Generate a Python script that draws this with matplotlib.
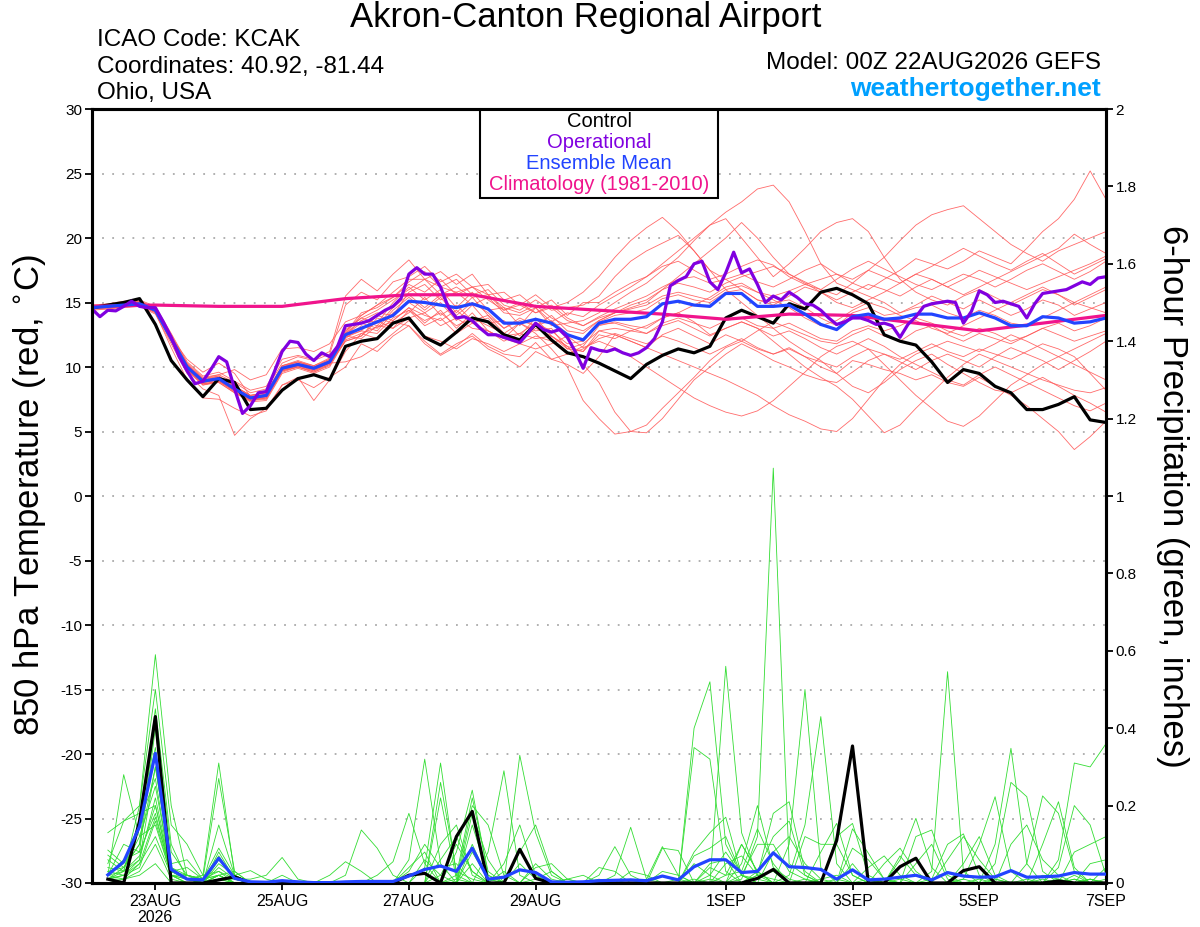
import matplotlib
matplotlib.use("Agg")
import matplotlib.pyplot as plt
from matplotlib.patches import Rectangle
import pandas as pd

plt.rcParams['font.family'] = ['Liberation Sans', 'DejaVu Sans']

# ---------------- data ----------------
run_start = "2026-08-22 00:00"
n6 = 65          # 6-hourly points (0..384h)
n3 = 129         # 3-hourly points for operational

title = "Akron-Canton Regional Airport"
info_left = ["ICAO Code: KCAK", "Coordinates: 40.92, -81.44", "Ohio, USA"]
model_text = "Model: 00Z 22AUG2026 GEFS"
site_text = "weathertogether.net"
legend_labels = ["Control", "Operational", "Ensemble Mean", "Climatology (1981-2010)"]
left_label = "850 hPa Temperature (red, $^{\\circ}$C)"
right_label = "6-hour Precipitation (green, inches)"

tick_dates = ["2026-08-23", "2026-08-25", "2026-08-27", "2026-08-29",
              "2026-09-01", "2026-09-03", "2026-09-05", "2026-09-07"]
tick_labels = ["23AUG\n2026", "25AUG", "27AUG", "29AUG", "1SEP", "3SEP", "5SEP", "7SEP"]
temp_ticks = [-30, -25, -20, -15, -10, -5, 0, 5, 10, 15, 20, 25, 30]
precip_ticks = [0, 0.2, 0.4, 0.6, 0.8, 1.0, 1.2, 1.4, 1.6, 1.8, 2.0]

# ensemble member 850 hPa temperatures (6-hourly)
t_m01 = [14.7,14.8,15.0,15.1,14.6,12.5,10.3,9.2,9.4,8.8, 8.0,8.3,10.3,10.8,10.5,11.0,14.8,15.8,15.2,16.6,
         17.0,17.8,16.6,17.2,16.2,16.4,15.2,15.6,14.6,15.2, 14.0,15.0,15.0,15.8,16.5,17.0,17.8,18.2,17.5,16.8,
         17.2,17.8,18.3,17.9,17.0,16.4,16.8,17.2,16.5,16.0, 16.8,17.5,18.4,18.0,17.6,18.2,19.0,18.5,18.0,19.2,
         20.5,21.5,23.0,25.2,23.0]
t_m02 = [14.5,14.6,14.7,14.8,14.2,11.5,9.0,7.6,7.5,6.8, 6.2,6.6,8.6,9.0,8.4,9.2,10.0,11.8,11.2,12.4,
         13.2,11.8,10.9,11.6,12.6,11.6,11.0,10.8,11.9,10.6, 10.2,9.5,10.8,12.5,12.0,11.5,12.5,13.0,12.4,11.8,
         12.5,12.0,11.4,11.0,11.5,10.8,10.0,9.5,10.5,10.2, 9.8,9.5,9.0,9.4,8.8,8.5,9.2,8.5,7.8,7.0,
         6.0,5.0,3.6,4.6,5.8]
t_m03 = [14.6,14.8,14.9,15.0,14.5,12.4,10.2,9.1,9.3,8.5, 7.8,8.0,10.1,10.5,10.1,10.7,12.8,13.8,13.4,15.0,
         16.2,15.2,16.0,14.6,15.8,14.4,14.6,13.2,14.6,13.5, 14.2,13.9,14.8,15.5,16.2,17.0,18.0,19.0,20.0,21.0,
         22.0,22.8,23.8,24.1,22.8,20.5,18.0,16.5,16.0,15.5, 15.0,14.2,14.8,15.5,15.0,14.5,15.2,14.6,14.0,14.5,
         15.2,14.8,14.0,14.5,15.0]
t_m04 = [14.4,14.5,14.6,14.7,14.1,11.8,9.5,8.3,7.8,4.7, 6.0,6.8,8.6,9.2,7.4,9.0,11.2,12.6,12.2,13.6,
         14.6,13.4,14.4,13.0,14.2,12.8,12.2,13.4,12.6,11.4, 10.0,7.4,6.0,4.8,5.0,5.5,6.8,8.0,9.2,10.5,
         11.5,12.0,12.8,13.5,13.0,12.5,12.0,11.8,12.5,13.0, 12.4,12.0,12.8,13.2,12.5,12.0,12.6,12.2,11.8,12.4,
         13.0,12.5,12.0,12.4,12.8]
t_m05 = [14.8,14.9,15.1,15.2,14.7,12.6,10.4,9.3,9.6,8.9, 8.2,8.5,10.6,10.9,10.6,11.2,15.5,16.8,15.9,17.2,
         18.3,16.8,17.4,16.4,17.2,15.6,15.8,14.8,15.6,14.6, 15.0,15.8,17.0,18.5,19.8,20.8,21.6,20.5,19.0,17.5,
         16.8,16.0,15.2,14.8,15.5,16.2,15.8,15.0,14.6,15.2, 15.8,16.5,17.2,16.8,16.2,16.8,17.5,17.0,16.5,16.0,
         16.5,17.0,17.5,18.0,18.6]
t_m06 = [14.6,14.6,14.7,14.8,14.3,12.0,9.8,8.7,8.8,8.0, 7.4,7.5,9.6,10.0,9.6,10.1,12.2,13.2,12.8,14.2,
         15.0,14.2,15.0,13.6,14.8,13.4,13.6,12.4,13.8,12.4, 11.6,10.2,8.8,6.5,5.0,4.9,6.0,7.5,9.0,10.0,
         11.0,11.8,11.2,10.5,10.0,9.4,9.0,8.8,9.6,10.5, 11.0,10.4,9.8,10.5,11.0,10.5,10.0,10.8,11.5,11.0,
         10.5,9.8,10.5,11.2,12.0]
t_m07 = [14.7,14.7,14.9,15.0,14.5,12.3,10.6,9.6,10.3,9.5, 7.7,7.9,10.0,10.4,10.0,10.5,12.6,13.6,14.2,14.0,
         15.8,16.4,15.2,15.8,14.8,15.4,14.2,14.0,14.6,13.2, 13.4,13.6,14.2,15.0,15.8,16.5,17.5,18.5,19.8,21.0,
         21.5,20.0,18.5,17.0,18.0,19.2,20.5,21.2,21.5,20.5, 18.5,16.8,15.8,15.2,14.8,15.5,16.0,15.4,14.8,15.4,
         16.0,15.6,15.0,15.6,16.2]
t_m08 = [14.5,14.7,14.8,14.9,14.3,12.1,9.9,8.8,9.0,8.2, 7.5,7.7,9.8,10.1,9.8,10.3,12.0,12.4,13.8,13.4,
         14.2,15.4,14.0,14.8,13.6,14.0,12.6,13.4,12.8,13.0, 11.4,11.8,12.8,12.5,12.0,11.5,11.0,10.5,10.0,9.5,
         9.0,8.4,7.8,7.0,6.3,5.8,5.2,5.0,6.0,7.5, 9.0,10.2,11.0,11.5,12.0,11.6,11.2,11.8,12.5,12.0,
         11.4,10.8,10.2,9.6,9.0]
t_m09 = [14.6,14.7,14.8,14.9,14.4,12.2,10.0,8.9,9.2,8.4, 7.6,7.8,9.9,10.2,9.9,10.4,12.5,13.6,13.2,14.6,
         15.6,14.6,15.6,14.2,15.4,14.0,13.0,13.8,13.2,14.0, 12.8,12.6,13.6,14.2,14.5,14.8,15.5,15.8,15.5,15.2,
         16.0,16.3,15.8,15.5,15.9,16.4,16.0,15.6,16.5,17.5, 18.5,19.8,21.0,21.8,22.2,22.5,21.5,20.5,19.5,18.8,
         18.2,19.0,19.5,20.0,20.5]
t_m10 = [14.5,14.6,14.7,14.8,14.3,12.0,9.8,8.6,8.9,8.1, 7.4,7.6,9.7,10.0,9.6,10.2,12.0,12.4,13.6,13.0,
         14.4,13.6,14.2,13.2,13.8,13.2,12.6,12.0,13.0,12.4, 11.4,11.2,12.5,12.2,12.8,13.2,13.8,14.2,13.5,12.5,
         13.0,13.5,13.0,12.0,11.0,10.0,9.2,8.5,7.5,6.2, 4.9,5.5,6.8,8.0,9.2,10.2,11.0,10.5,10.0,9.5,
         9.0,8.6,8.2,8.0,8.4]
t_m11 = [14.7,14.8,14.9,15.0,14.5,12.3,10.1,9.0,9.2,8.5, 7.8,8.0,10.1,10.4,10.1,10.6,12.9,13.8,14.4,15.2,
         16.0,16.8,15.6,16.2,15.4,15.6,14.4,14.8,14.2,14.6, 13.6,13.2,13.9,14.5,15.0,15.5,16.2,16.8,17.0,16.5,
         16.8,17.2,16.6,16.2,16.8,17.5,18.0,17.2,16.8,17.5, 17.0,16.5,17.2,17.8,18.5,19.2,18.6,18.0,17.5,18.2,
         18.8,18.0,17.2,17.8,18.4]
t_m12 = [14.5,14.5,14.7,14.8,14.2,12.0,9.7,8.6,8.8,8.0, 7.3,7.4,9.5,9.9,9.5,10.0,12.1,12.6,13.1,13.5,
         13.2,12.0,11.0,11.8,12.4,11.4,10.8,10.0,11.2,10.6, 11.0,11.4,12.2,12.6,12.2,11.8,12.4,12.0,11.5,11.0,
         11.6,12.2,11.5,11.0,11.4,10.8,10.4,10.0,10.8,11.4, 11.0,10.6,11.2,11.8,11.2,10.8,11.4,11.0,10.6,11.2,
         11.8,11.4,10.8,9.5,8.2]
t_m13 = [14.6,14.6,14.8,14.9,14.4,12.2,10.0,8.9,9.0,8.3, 7.6,7.8,9.9,10.2,9.9,10.4,12.5,13.4,13.0,14.4,
         15.4,14.4,15.4,14.0,15.0,14.2,13.0,13.6,13.2,13.6, 12.6,12.0,13.5,14.0,14.2,14.5,15.3,15.6,15.2,15.0,
         15.8,16.0,15.2,15.0,15.2,14.6,13.8,13.2,14.2,14.6, 14.0,14.2,14.6,14.8,14.2,13.8,14.4,14.0,13.4,13.2,
         13.8,14.4,15.0,14.6,14.2]
t_m14 = [14.8,14.8,15.0,15.1,14.6,12.4,10.2,9.1,9.4,9.8, 9.0,9.4,11.4,11.5,11.2,11.8,13.5,14.0,14.8,15.4,
         16.6,17.4,16.2,16.8,15.6,16.0,14.8,14.4,15.2,14.4, 14.6,14.8,15.5,17.0,18.2,19.0,19.6,20.2,19.0,17.5,
         16.0,15.0,14.0,13.0,12.0,11.2,10.5,9.5,8.5,8.0, 8.8,9.8,10.5,11.0,10.2,9.5,8.8,8.2,8.0,8.6,
         9.2,8.5,7.8,7.2,6.5]
t_m15 = [14.6,14.7,14.8,14.9,14.4,12.1,9.9,8.8,9.0,8.2, 7.5,7.7,9.8,10.1,9.8,10.3,12.4,12.2,13.2,13.0,
         13.8,14.2,13.2,13.8,13.0,12.8,12.2,11.8,12.4,12.0, 11.0,11.6,13.2,13.5,13.2,13.0,13.8,14.2,14.8,15.4,
         16.2,16.5,15.8,15.2,14.6,13.8,13.2,13.6,14.4,15.0, 14.6,14.0,13.6,13.0,12.6,13.2,13.8,14.4,15.0,15.6,
         16.2,15.6,14.8,15.4,16.0]
t_m16 = [14.5,14.6,14.8,14.8,14.3,12.1,9.8,8.7,8.9,8.2, 7.5,7.6,9.7,10.1,9.7,10.3,10.4,10.8,11.6,12.6,
         13.6,12.4,12.0,11.4,12.2,11.8,11.2,11.8,11.4,11.8, 12.4,11.5,12.0,11.5,10.8,10.0,9.2,8.4,7.6,7.0,
         6.5,6.2,6.6,7.4,8.5,9.6,10.8,11.6,12.0,11.4, 10.2,9.0,7.8,6.8,5.8,5.4,6.2,7.4,8.6,9.4,
         10.2,10.8,11.4,12.0,12.6]
t_m17 = [14.7,14.8,15.0,15.0,14.5,12.3,10.2,9.0,9.3,8.5, 7.8,8.0,10.1,10.4,10.0,10.6,12.7,14.2,14.6,15.4,
         16.4,15.8,16.8,15.6,16.2,15.2,14.4,15.0,14.2,14.8, 13.8,13.2,13.8,14.2,14.8,15.2,16.0,16.5,16.2,15.8,
         16.5,17.0,17.4,17.8,17.2,16.6,16.0,16.8,17.6,18.2, 17.6,17.0,16.4,16.0,16.6,17.2,16.8,16.2,16.8,17.5,
         18.0,17.4,16.8,17.4,18.2]
t_m18 = [14.6,14.6,14.7,14.8,14.3,12.1,9.9,8.8,9.0,8.2, 7.5,7.7,9.8,10.1,9.8,10.3,12.4,12.8,14.0,13.6,
         14.6,14.0,13.6,14.4,13.4,13.8,12.4,12.6,13.4,12.8, 11.8,12.0,13.3,13.4,13.0,12.6,13.2,13.6,13.0,12.4,
         13.0,13.5,13.0,12.4,12.8,12.2,11.5,11.0,11.6,12.2, 11.6,10.8,10.2,9.6,9.0,8.6,9.4,10.0,9.4,8.8,
         8.2,7.6,7.0,6.6,7.2]
t_m19 = [14.7,14.7,14.9,15.0,14.5,12.3,10.1,9.0,9.2,8.4, 7.7,7.9,10.0,10.3,10.0,10.5,12.6,14.0,14.8,15.8,
         16.8,16.8,16.2,15.8,16.2,15.6,14.6,14.2,14.8,13.8, 13.2,12.8,13.6,14.2,14.6,15.0,16.0,17.0,18.0,19.0,
         20.0,21.2,20.0,18.5,17.2,16.5,15.8,15.2,15.8,16.4, 16.0,15.5,16.2,16.8,16.2,15.6,16.2,16.8,17.4,18.0,
         18.6,19.2,20.3,19.5,18.8]
t_m20 = [14.5,14.6,14.7,14.8,14.3,12.0,9.8,8.7,8.9,8.1, 7.4,7.6,9.7,10.0,9.7,10.2,12.3,12.8,12.6,13.8,
         14.4,13.2,13.8,12.6,13.4,12.8,12.0,12.6,12.2,12.4, 11.6,11.2,12.8,13.0,12.8,12.6,13.4,13.8,13.4,13.0,
         13.6,13.8,13.2,13.0,13.4,12.8,12.2,12.0,12.8,13.2, 12.8,13.2,13.8,13.4,12.8,12.4,13.0,12.6,12.0,12.4,
         13.0,13.4,12.8,13.2,13.8]

# control run, ensemble mean (6-hourly)
t_control = [14.6,14.8,15.0,15.3,13.3,10.5,9.0,7.7,9.1,8.8, 6.7,6.8,8.2,9.1,9.4,9.0,11.6,12.0,12.2,13.4,
             13.8,12.3,11.7,12.7,13.8,13.5,12.5,12.1,13.3,12.1, 11.1,10.8,10.3,9.7,9.1,10.2,10.9,11.4,11.1,11.6,
             13.8,14.4,13.9,13.4,14.9,14.5,15.8,16.1,15.6,14.9, 12.5,12.0,11.7,10.4,8.8,9.8,9.5,8.5,8.0,6.7,
             6.7,7.1,7.7,5.9,5.7]
t_mean = [14.6,14.7,14.8,14.9,14.4,12.2,10.0,8.9,9.1,8.3, 7.6,7.8,9.9,10.2,9.9,10.4,12.5,13.0,13.5,14.0,
          15.1,15.0,14.8,14.6,14.9,14.5,13.4,13.4,13.7,13.4, 12.5,12.1,13.4,13.7,13.7,13.9,14.9,15.1,14.8,14.7,
          15.7,15.7,14.7,14.7,14.8,14.1,13.3,12.9,13.9,14.1, 13.7,13.8,14.1,14.1,13.8,13.8,14.2,13.8,13.2,13.2,
          13.9,13.8,13.4,13.5,13.8]

# operational run (3-hourly)
t_oper = [14.5,13.9,14.4,14.35,14.7,15.1,14.7,14.6,14.6,13.5,
          12.3,10.8,9.7,8.7,8.9,9.8,10.8,10.4,8.3,6.4,
          7.0,8.0,8.1,9.6,11.2,12.0,11.9,11.0,10.5,11.1,
          10.8,11.6,13.2,13.3,13.4,13.6,14.0,14.4,14.7,15.3,
          17.2,17.7,17.2,17.2,16.2,14.6,13.8,13.9,13.6,13.0,
          12.5,12.5,12.3,12.1,11.9,12.6,13.4,12.9,12.7,12.9,
          12.3,11.2,9.9,11.5,11.3,11.2,11.4,11.1,10.9,11.1,
          11.5,12.2,13.5,16.3,16.7,17.0,18.0,18.2,16.6,16.0,
          17.3,18.9,17.3,17.6,16.4,15.0,15.5,15.2,15.8,15.4,
          14.9,14.8,14.4,13.8,13.3,13.5,13.8,13.8,13.6,13.3,
          13.4,13.2,12.3,13.3,13.9,14.7,14.9,15.0,15.1,15.0,
          13.4,14.3,15.9,15.6,15.0,15.1,14.9,14.7,13.8,14.9,
          15.7,15.8,15.9,16.0,16.3,16.6,16.4,16.9,17.0]

# climatology (daily)
clim_dates = pd.date_range(run_start, periods=17, freq="1D")
t_clim = [14.7,14.8,14.7,14.7,15.3,15.6,15.6,14.7,14.4,14.1,13.7,14.1,14.0,13.4,12.8,13.4,14.0]

# 6-hour precipitation (inches), 6h..384h
p_m01 = [.13,.16,.18,.20,.03,.04,.01,.02,0,0,0,0,0,0,0,0, 0,0,0,.03,.10,.04,.05,0,0,.03,0,0,0,.01,0,0,
         0,0,0,0,0,.05,.02,.08,.02,.01,0,0,0,.01,.02,0, 0,.05,.09,.03,0,0,.01,0,0,0,.01,0,0,.02,0,0]
p_m02 = [.02,.28,.12,.15,.02,0,0,.15,.02,0,0,0,0,0,0,0, 0,0,0,.04,.08,0,0,.05,0,0,0,0,0,0,0,.01,
         0,0,0,0,.01,0,.05,.06,0,.02,.01,0,0,0,0,0, .01,0,.07,.02,0,0,0,.01,0,0,0,.02,.01,0,0,0]
p_m03 = [.05,.16,.20,.50,.15,.10,.02,.03,0,0,0,0,0,0,0,0, 0,0,0,0,.06,.02,0,0,0,0,.05,.01,0,0,0,0,
         0,.01,0,0,0,0,.04,.02,.10,.03,0,0,.01,0,0,0, 0,0,.06,.167,.04,0,0,0,.01,0,0,0,0,.01,0,0]
p_m04 = [.085,.05,.15,.35,.03,.01,0,.02,0,0,0,.02,0,0,0,0, 0,0,0,0,.04,.31,.02,0,0,0,0,.05,.01,0,0,0,
         0,0,0,0,0,.01,0,.05,.07,.02,.03,0,0,0,.01,0, 0,0,0,.12,.137,.02,0,0,0,0,0,.01,0,0,.01,0]
p_m05 = [.072,.04,.10,.30,.04,.02,.01,.09,.02,0,0,0,0,0,0,0, 0,0,0,0,0,.26,.03,.01,0,0,0,.04,.05,.01,0,0,
         0,0,0,0,0,0,.01,0,.05,.20,.04,.01,0,0,0,0, 0,.01,0,.05,.10,.01,0,0,0,0,0,0,.01,0,0,.01]
p_m06 = [.06,.03,.16,.27,.02,.01,0,.08,.01,0,0,0,0,0,0,0, 0,0,0,0,0,.22,.01,0,0,0,0,.01,.03,0,0,0,
         0,0,0,0,0,0,0,.02,.03,.14,.05,0,0,0,0,0, 0,0,.01,0,.03,.546,.03,0,0,0,0,0,0,.01,0,0]
p_m07 = [.03,.04,.12,.25,.03,.02,.01,.07,.01,0,0,0,0,0,0,0, 0,0,0,0,0,.10,.15,.02,0,0,0,0,0,.01,.02,0,
         0,0,0,0,0,0,.02,0,.01,.12,1.072,.05,.02,0,0,0, 0,0,0,0,.01,.10,.127,.02,0,0,0,0,0,0,.01,0]
p_m08 = [.02,.10,.08,.18,.02,.01,0,.06,.02,0,0,0,0,0,0,0, 0,0,0,0,0,.06,.12,.03,0,0,0,0,0,0,0,.04,
         .03,0,0,0,0,0,0,0,.02,.10,.10,.03,.01,0,0,0, 0,0,0,0,0,.06,.12,.06,.01,0,0,0,0,0,0,0]
p_m09 = [.01,.03,.20,.59,.20,.02,.01,.02,.03,0,0,0,0,0,0,0, 0,0,0,0,0,.02,.10,.03,0,0,0,0,0,0,0,.02,
         .094,.02,0,0,0,0,0,0,0,.02,.18,.21,.03,0,0,0, 0,0,0,0,0,0,.05,.12,.02,0,0,0,0,0,0,0]
p_m10 = [.02,.05,.14,.45,.10,.01,0,.01,.01,0,0,0,0,0,0,0, 0,0,0,0,0,0,.08,.24,.02,0,0,0,0,0,0,0,
         .02,.144,.01,0,0,0,0,0,0,.03,.12,.16,.02,0,0,0, 0,0,0,0,0,0,.01,.10,.223,.03,0,0,0,0,0,0]
p_m11 = [.01,.04,.10,.42,.08,.02,0,.02,0,0,0,0,0,0,0,0, 0,0,0,0,0,0,.02,.22,.03,0,0,0,0,0,0,0,
         0,.03,.02,0,0,0,0,0,0,0,.08,.12,.05,.01,0,0, 0,0,0,0,0,0,0,0,.10,.348,.05,0,0,0,.01,0]
p_m12 = [.02,.06,.08,.40,.05,.06,.01,.03,.01,0,0,0,0,0,0,0, 0,0,0,0,0,0,.01,.20,.15,.02,0,0,0,0,0,0,
         0,0,.01,.094,.02,0,0,0,0,0,0,.10,.50,.04,0,0, 0,0,0,0,0,0,0,0,.05,.26,.223,.03,0,0,0,0]
p_m13 = [.01,.02,.06,.22,.03,.01,.02,.31,.02,0,0,0,0,0,0,0, 0,0,0,0,0,0,0,.18,.06,0,0,0,0,0,0,0,
         0,0,0,.09,.084,0,0,0,0,0,0,.02,.15,.43,.05,0, 0,0,0,0,0,0,0,0,0,.10,.15,.06,.02,0,0,0]
p_m14 = [.02,.03,.07,.20,.02,.02,.01,.27,.03,0,0,0,0,0,0,0, 0,0,0,0,0,0,0,.15,.02,0,0,0,0,0,0,0,
         0,0,0,.03,.02,0,0,0,0,0,0,0,.12,.10,.10,.02, 0,0,0,0,0,0,0,0,0,0,.05,.225,.18,.03,0,0]
p_m15 = [.01,.02,.05,.17,.03,.01,0,.05,.02,.032,.01,0,0,0,0,0, 0,0,0,0,0,0,0,.10,.01,0,0,0,0,0,0,0,
         0,0,0,0,0,.40,.52,.10,.02,0,0,0,0,.08,.154,.02, 0,0,0,0,0,0,0,0,0,0,0,.10,.21,.04,0,0]
p_m16 = [.03,.02,.04,.16,.02,0,0,.04,.01,.01,.02,.066,.01,0,0,0, 0,0,0,0,0,0,0,.08,.01,0,0,0,0,0,0,0,
         0,0,0,0,0,.35,.32,.03,0,0,0,0,0,0,.12,.154, .02,0,0,0,0,0,0,0,0,0,0,0,.06,.31,.30,.36]
p_m17 = [.01,.01,.05,.12,.02,0,0,.02,0,0,0,0,0,0,.02,.055, .03,0,0,0,0,0,0,0,.08,.29,.02,0,0,0,0,0,
         0,0,0,0,0,.08,.13,.17,.02,0,0,0,0,0,0,.14, .077,.01,0,0,0,0,0,0,0,0,0,0,.04,.20,.15,.02]
p_m18 = [.02,.01,.03,.10,.01,0,0,.01,0,0,0,0,0,0,0,.02, .137,.09,.02,0,0,0,0,0,0,.05,.15,.02,0,0,0,0,
         0,0,0,0,0,.07,.09,.12,.02,0,0,0,0,0,0,.09, .06,.01,0,0,0,0,0,0,0,0,0,0,0,.08,.10,.12]
p_m19 = [0,.01,.02,.05,0,0,0,.01,0,0,0,0,0,0,0,0, 0,.02,.055,.18,.05,0,0,0,0,0,.33,.13,.02,0,0,0,
         0,0,0,0,0,0,0,.56,.13,.02,0,0,0,0,0,.05, 0,0,0,0,0,0,0,0,0,0,0,0,0,0,.05,.06]
p_m20 = [.04,.03,.06,.30,.04,.01,0,.02,0,0,0,0,0,0,0,0, 0,0,0,.06,.32,.05,0,0,0,0,.08,.15,.03,0,0,0,
         0,0,0,0,0,0,0,0,.10,.03,0,0,0,0,0,0, .04,.07,.02,0,0,0,0,0,0,0,0,0,0,0,0,.04]

p_control = [.01,0,.16,.43,0,0,0,.008,.016,0,0,0,0,0,0,0, 0,0,0,.02,.025,0,.12,.185,0,0,.087,.012,0,0,0,0,
             0,0,0,0,0,0,0,0,0,.012,.035,0,0,0,.11,.354, 0,0,.042,.064,0,0,.032,.042,0,0,0,0,.005,0,0,0]
p_mean = [.021,.055,.146,.335,.035,.01,.008,.064,.012,.003,.002,.006,.003,.001,.001,.003,
          .004,.004,.004,.018,.035,.044,.03,.09,.01,.015,.034,.027,.003,.002,.003,.006,
          .007,.008,.006,.018,.008,.042,.06,.06,.027,.03,.078,.042,.04,.035,.01,.034,
          .008,.01,.015,.02,.008,.027,.018,.015,.016,.032,.015,.016,.018,.027,.023,.023]

temp_members = [t_m01, t_m02, t_m03, t_m04, t_m05, t_m06, t_m07, t_m08, t_m09, t_m10,
                t_m11, t_m12, t_m13, t_m14, t_m15, t_m16, t_m17, t_m18, t_m19, t_m20]
precip_members = [p_m01, p_m02, p_m03, p_m04, p_m05, p_m06, p_m07, p_m08, p_m09, p_m10,
                  p_m11, p_m12, p_m13, p_m14, p_m15, p_m16, p_m17, p_m18, p_m19, p_m20]

# ---------------- styles ----------------
C_RED = "#ff5a5a"
C_GREEN = "#33dd33"
C_BLACK = "#000000"
C_PURPLE = "#8000e0"
C_BLUE = "#2244ff"
C_PINK = "#f0148c"
C_SITE = "#00a0ff"

times6 = pd.date_range(run_start, periods=n6, freq="6h")
times3 = pd.date_range(run_start, periods=n3, freq="3h")
ptimes = times6[1:]

W, H = 1200, 927
fig = plt.figure(figsize=(W / 100, H / 100), dpi=100)
L, R, T, B = 92, 1106, 109, 883
ax = fig.add_axes([L / W, 1 - B / H, (R - L) / W, (B - T) / H])
ax2 = ax.twinx()

# temperature
for m in temp_members:
    ax.plot(times6, m, color=C_RED, lw=0.6, alpha=0.9, zorder=2)
ax.plot(times6, t_control, color=C_BLACK, lw=2.3, zorder=4)
ax.plot(times6, t_mean, color=C_BLUE, lw=2.3, zorder=5)
ax.plot(times3, t_oper, color=C_PURPLE, lw=2.3, zorder=6)
ax.plot(clim_dates, t_clim, color=C_PINK, lw=2.3, zorder=4.5)

# precipitation
for m in precip_members:
    ax2.plot(ptimes, m, color=C_GREEN, lw=0.6, zorder=2)
ax2.plot(ptimes, p_control, color=C_BLACK, lw=2.3, zorder=4)
ax2.plot(ptimes, p_mean, color=C_BLUE, lw=2.3, zorder=5)

# axes setup
ax.set_xlim(times6[0], times6[-1])
ax.set_ylim(-30, 30)
ax2.set_ylim(0, 2)
ax.set_yticks(temp_ticks)
ax.set_yticklabels([str(t) for t in temp_ticks])
ax2.set_yticks(precip_ticks)
ax2.set_yticklabels(["%g" % p for p in precip_ticks])
ax.set_xticks(pd.to_datetime(tick_dates))
ax.set_xticklabels(tick_labels, fontsize=11.5, linespacing=1.05)

for t in temp_ticks[1:-1]:
    ax.axhline(t, color="#aaaaaa", lw=1.3, linestyle=(0, (1, 4.6)), zorder=1)

for a in (ax, ax2):
    for s in a.spines.values():
        s.set_linewidth(2.2)
ax.tick_params(axis="y", direction="out", length=5, width=1.3, labelsize=11, pad=2)
ax2.tick_params(axis="y", direction="out", length=5, width=1.3, labelsize=11, pad=2)
ax.tick_params(axis="x", direction="out", length=5, width=1.3, pad=3)

# axis labels
fig.text(30 / W, 1 - 495 / H, left_label, rotation=90, ha="center", va="center", fontsize=25)
fig.text(1172 / W, 1 - 496 / H, right_label, rotation=270, ha="center", va="center", fontsize=25)

# header texts
fig.text(586 / W, 1 - 18 / H, title, ha="center", va="center", fontsize=25)
for k, s in enumerate(info_left):
    fig.text(97 / W, 1 - (40 + 26.5 * k) / H, s, ha="left", va="center", fontsize=17.5)
fig.text(1101 / W, 1 - 63 / H, model_text, ha="right", va="center", fontsize=17.5)
fig.text(1101 / W, 1 - 89 / H, site_text, ha="right", va="center", fontsize=19,
         fontweight="bold", color=C_SITE)

# legend box
bx0 = (480 - L) / (R - L)
bx1 = (718 - L) / (R - L)
by0 = 1 - (198 - T) / (B - T)
ax.add_patch(Rectangle((bx0, by0), bx1 - bx0, 1 - by0, transform=ax.transAxes,
                       facecolor="white", edgecolor="black", lw=1.5, zorder=10))
leg_colors = [C_BLACK, C_PURPLE, C_BLUE, C_PINK]
for k, (s, c) in enumerate(zip(legend_labels, leg_colors)):
    yy = 1 - (121 + 21.3 * k - T) / (B - T)
    ax.text(0.5, yy, s, transform=ax.transAxes, ha="center", va="center",
            color=c, fontsize=14.5, zorder=11)

fig.savefig("out.png", dpi=100)
